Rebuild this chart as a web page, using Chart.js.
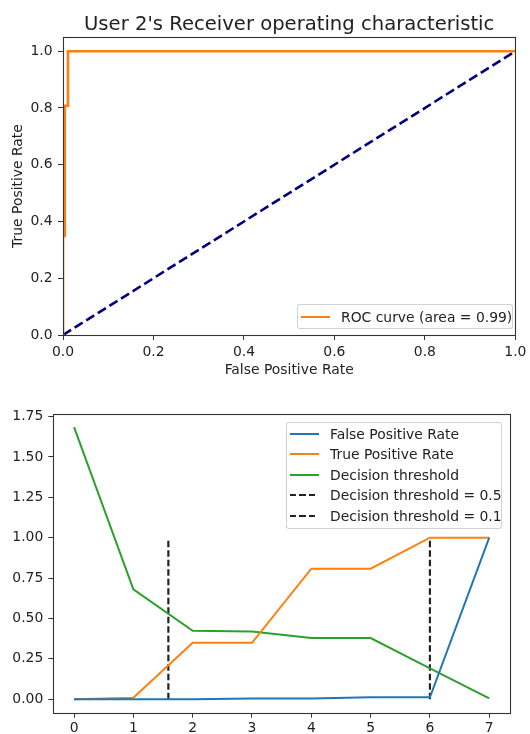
<!DOCTYPE html>
<html>
<head>
<meta charset="utf-8">
<script src="https://cdn.jsdelivr.net/npm/chart.js@4/dist/chart.umd.min.js"></script>
<style>
  html, body { margin: 0; padding: 0; background: #fff; }
  body { width: 530px; height: 734px; position: relative; overflow: hidden; font-family: "DejaVu Sans", sans-serif; }
  canvas { position: absolute; left: 0; }
  #c1 { top: 0; }
  #c2 { top: 380px; }
  .legend { position: absolute; box-sizing: border-box; border: 1px solid rgba(204,204,204,0.9); border-radius: 3px; background: rgba(255,255,255,0.85); font-size: 13.9px; color: #222; }
  .legend .row { position: absolute; left: 0; height: 20px; display: flex; align-items: center; white-space: nowrap; }
  .legend .sample { width: 29px; height: 0; margin-right: 11px; }
</style>
</head>
<body>
<canvas id="c1" width="530" height="380"></canvas>
<canvas id="c2" width="530" height="354"></canvas>
<div id="leg1" class="legend" style="left:297px; top:304px; width:216px; height:25px;"></div>
<div id="leg2" class="legend" style="left:286px; top:422px; width:216px; height:107px;"></div>
<script>
// ---------- data ----------
const rocTitle = "User 2's Receiver operating characteristic";
const rocArea = 0.99;
const fpr = [0, 0, 0, 0.004, 0.004, 0.011, 0.011, 1.0];
const tpr = [0, 0.008, 0.349, 0.349, 0.808, 0.808, 1.0, 1.0];
const thresholds = [1.684, 0.68, 0.423, 0.419, 0.378, 0.378, 0.19, 0.005];
const indices = [0, 1, 2, 3, 4, 5, 6, 7];
const chanceX = [0, 1];
const chanceY = [0, 1];
const cutoffPositions = [1.59, 6];
const cutoffLabels = ['Decision threshold = 0.5', 'Decision threshold = 0.1'];
const cutoffYRange = [0, 1];

const rocTickValues = [0, 0.2, 0.4, 0.6, 0.8, 1.0];
const rocTickLabels = ['0.0', '0.2', '0.4', '0.6', '0.8', '1.0'];
const lowerXTickValues = [0, 1, 2, 3, 4, 5, 6, 7];
const lowerXTickLabels = ['0', '1', '2', '3', '4', '5', '6', '7'];
const lowerYTickValues = [0, 0.25, 0.5, 0.75, 1.0, 1.25, 1.5, 1.75];
const lowerYTickLabels = ['0.00', '0.25', '0.50', '0.75', '1.00', '1.25', '1.50', '1.75'];

// ---------- styles ----------
const FONT = "'DejaVu Sans', sans-serif";
const TXT = '#222';
const SPINE = '#333';
const C_BLUE = '#1f77b4', C_ORANGE = '#ff7f0e', C_GREEN = '#2ca02c', C_NAVY = '#000080', C_BLACK = '#222';

const framePlugin = {
  id: 'frame',
  afterLayout(chart) {
    // centre the title over the plot area, as matplotlib does
    if (chart.titleBlock) {
      chart.titleBlock.left = chart.chartArea.left;
      chart.titleBlock.right = chart.chartArea.right;
    }
  },
  afterDatasetsDraw(chart) {
    const { ctx, chartArea: a } = chart;
    ctx.save();
    ctx.strokeStyle = SPINE;
    ctx.lineWidth = 1.1;
    const l = Math.round(a.left) + 0.5, t = Math.round(a.top) + 0.5;
    const r = Math.round(a.right) + 0.5, b = Math.round(a.bottom) + 0.5;
    ctx.strokeRect(l, t, r - l, b - t);
    ctx.restore();
  }
};

function tickSetter(values) {
  return (scale) => { scale.ticks = values.map(v => ({ value: v })); };
}
function labelFor(values, labels) {
  return (v) => { const i = values.findIndex(x => Math.abs(x - v) < 1e-9); return i >= 0 ? labels[i] : ''; };
}
function axisCommon(extra) {
  return Object.assign({
    grid: { display: true, drawOnChartArea: false, drawTicks: true, tickLength: 5, color: SPINE, lineWidth: 1 },
    border: { display: false },
  }, extra);
}
const xy = (xs, ys) => xs.map((x, i) => ({ x: x, y: ys[i] }));

Chart.defaults.font.family = FONT;
Chart.defaults.color = TXT;

// ---------- top chart: ROC ----------
const roc = new Chart(document.getElementById('c1'), {
  type: 'line',
  data: {
    datasets: [
      { label: 'ROC curve (area = ' + rocArea.toFixed(2) + ')', data: xy(fpr, tpr), borderColor: C_ORANGE, borderWidth: 2.6, pointRadius: 0, tension: 0, fill: false },
      { label: 'chance', data: xy(chanceX, chanceY), borderColor: C_NAVY, borderWidth: 2.6, borderDash: [9.5, 4.2], pointRadius: 0, tension: 0, fill: false }
    ]
  },
  options: {
    responsive: false, animation: false, devicePixelRatio: 1,
    layout: { padding: { left: 0, right: 10, top: 0, bottom: 0 } },
    plugins: {
      legend: { display: false },
      tooltip: { enabled: false },
      title: { display: true, text: rocTitle, color: TXT, font: { family: FONT, size: 19.6, weight: 'normal' }, padding: { top: 13, bottom: 0.5 } }
    },
    scales: {
      x: axisCommon({
        type: 'linear', min: 0, max: 1.0,
        afterBuildTicks: tickSetter(rocTickValues),
        afterFit: (s) => { s.height = 45; },
        ticks: { font: { size: 13.9 }, color: TXT, padding: 3.6, maxRotation: 0, autoSkip: false, callback: labelFor(rocTickValues, rocTickLabels) },
        title: { display: true, text: 'False Positive Rate', color: TXT, font: { size: 13.9 }, padding: { top: 0, bottom: 1.4 } }
      }),
      y: axisCommon({
        type: 'linear', min: 0, max: 1.05,
        afterBuildTicks: tickSetter(rocTickValues),
        afterFit: (s) => { s.width = 63; },
        ticks: { font: { size: 13.9 }, color: TXT, padding: 5.5, autoSkip: false, callback: labelFor(rocTickValues, rocTickLabels) },
        title: { display: true, text: 'True Positive Rate', color: TXT, font: { size: 13.9 }, padding: { top: 9.8, bottom: 0 } }
      })
    }
  },
  plugins: [framePlugin]
});

// ---------- bottom chart: rates vs thresholds ----------
const series = [
  { label: 'False Positive Rate', data: xy(indices, fpr), borderColor: C_BLUE, borderWidth: 2, pointRadius: 0, tension: 0, fill: false },
  { label: 'True Positive Rate', data: xy(indices, tpr), borderColor: C_ORANGE, borderWidth: 2, pointRadius: 0, tension: 0, fill: false },
  { label: 'Decision threshold', data: xy(indices, thresholds), borderColor: C_GREEN, borderWidth: 2, pointRadius: 0, tension: 0, fill: false }
];
cutoffPositions.forEach((p, i) => {
  series.push({ label: cutoffLabels[i], data: cutoffYRange.map(y => ({ x: p, y: y })), borderColor: C_BLACK, borderWidth: 2.2, borderDash: [6.5, 3], pointRadius: 0, tension: 0, fill: false });
});

const lower = new Chart(document.getElementById('c2'), {
  type: 'line',
  data: { datasets: series },
  options: {
    responsive: false, animation: false, devicePixelRatio: 1,
    layout: { padding: { left: 0, right: 20, top: 34.3, bottom: 0 } },
    plugins: { legend: { display: false }, tooltip: { enabled: false } },
    scales: {
      x: axisCommon({
        type: 'linear', min: -0.35, max: 7.35,
        afterBuildTicks: tickSetter(lowerXTickValues),
        afterFit: (s) => { s.height = 21.3; },
        ticks: { font: { size: 13.9 }, color: TXT, padding: 2, maxRotation: 0, autoSkip: false, callback: labelFor(lowerXTickValues, lowerXTickLabels) }
      }),
      y: axisCommon({
        type: 'linear', min: -0.084, max: 1.764,
        afterBuildTicks: tickSetter(lowerYTickValues),
        afterFit: (s) => { s.width = 53.3; },
        ticks: { font: { size: 13.9 }, color: TXT, padding: 5, autoSkip: false, callback: labelFor(lowerYTickValues, lowerYTickLabels) }
      })
    }
  },
  plugins: [framePlugin]
});

// ---------- HTML legends ----------
function buildLegend(el, datasets, firstCenter, pitch) {
  datasets.forEach((ds, i) => {
    const row = document.createElement('div');
    row.className = 'row';
    row.style.top = (firstCenter + i * pitch - 10) + 'px';
    row.style.left = '3px';
    const s = document.createElement('span');
    s.className = 'sample';
    s.style.borderTop = '2px solid ' + ds.borderColor;
    if (ds.borderDash) {
      s.style.borderTop = 'none';
      s.style.height = '2px';
      s.style.background = 'repeating-linear-gradient(to right, ' + ds.borderColor + ' 0 6px, transparent 6px 9.5px)';
      s.style.width = '26px';
      s.style.marginRight = '14px';
    }
    const t = document.createElement('span');
    t.textContent = ds.label;
    row.appendChild(s); row.appendChild(t);
    el.appendChild(row);
  });
}
buildLegend(document.getElementById('leg1'), [roc.data.datasets[0]], 11.5, 20);
buildLegend(document.getElementById('leg2'), lower.data.datasets, 11, 20.4);
</script>
</body>
</html>
